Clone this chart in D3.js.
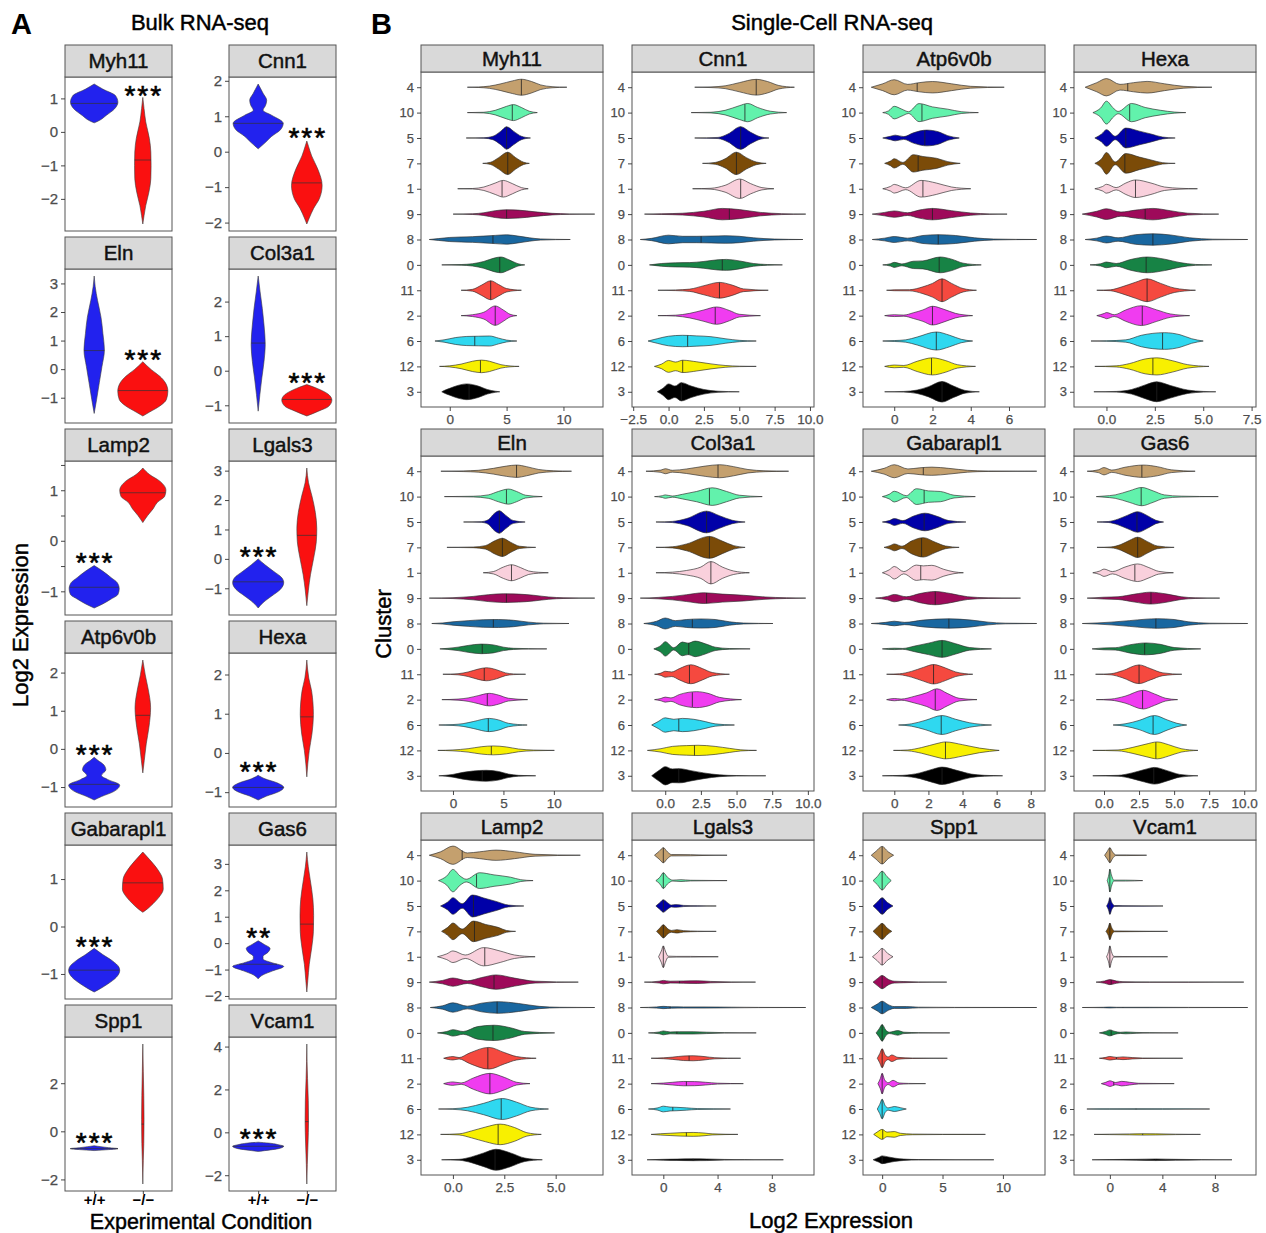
<!DOCTYPE html>
<html>
<head>
<meta charset="utf-8">
<script src="https://cdn.jsdelivr.net/npm/d3@7"></script>
<style>
  body { margin: 0; background: #fff; }
  svg { display: block; }
</style>
</head>
<body>
<svg id="fig" width="1266" height="1233"></svg>
<script>
// ---------------- Bulk RNA-seq (panel A) ----------------
const bulkGenes = ["Myh11","Cnn1","Eln","Col3a1","Lamp2","Lgals3","Atp6v0b","Hexa","Gabarapl1","Gas6","Spp1","Vcam1"];
const conditions = ["+/+","−/−"];
const conditionColors = ["#2222ee","#fa1010"];

// density outline knots: [log2 expression, relative half-width]
const bulkWT = [
  [[0.27,0],[0.34,0.21],[0.49,0.49],[0.69,0.84],[0.885,0.975],[1.08,0.88],[1.28,0.35],[1.43,0]],
  [[0.08,0],[0.25,0.28],[0.43,0.55],[0.62,0.92],[0.8,1.03],[1.03,0.55],[1.17,0.2],[1.3,0.3],[1.45,0.35],[1.65,0.2],[1.91,0]],
  [[-1.55,0],[-1.06,0.1],[-0.48,0.21],[0.09,0.32],[0.67,0.42],[1.24,0.36],[1.82,0.28],[2.4,0.14],[2.9,0.04],[3.26,0]],
  [[-1.17,0],[-0.69,0.07],[-0.21,0.15],[0.27,0.24],[0.75,0.29],[1.32,0.24],[1.8,0.17],[2.28,0.08],[2.74,0]],
  [[-1.33,0],[-1.25,0.35],[-1.16,0.67],[-1.06,0.98],[-0.95,1.03],[-0.83,0.95],[-0.73,0.7],[-0.6,0.35],[-0.49,0]],
  [[-1.67,0],[-1.48,0.21],[-1.26,0.56],[-1.04,0.91],[-0.81,1.05],[-0.65,0.98],[-0.42,0.63],[-0.2,0.28],[0,0]],
  [[-1.34,0],[-1.25,0.3],[-1.12,0.8],[-0.95,1.05],[-0.8,0.55],[-0.7,0.3],[-0.55,0.48],[-0.42,0.4],[-0.3,0.15],[-0.22,0]],
  [[-1.2,0],[-1.1,0.35],[-0.99,0.84],[-0.88,1.05],[-0.76,0.77],[-0.66,0.28],[-0.57,0]],
  [[-1.38,0],[-1.31,0.25],[-1.21,0.56],[-1.07,0.91],[-0.93,1.05],[-0.86,1.02],[-0.72,0.74],[-0.59,0.35],[-0.46,0]],
  [[-1.35,0],[-1.2,0.2],[-1.05,0.6],[-0.88,1.05],[-0.75,0.6],[-0.6,0.2],[-0.5,0.2],[-0.35,0.4],[-0.2,0.49],[-0.05,0.25],[0.09,0]],
  [[-0.8,0],[-0.76,0.6],[-0.72,0.98],[-0.68,0.6],[-0.6,0]],
  [[-0.89,0],[-0.82,0.5],[-0.76,0.84],[-0.65,1.05],[-0.58,0.84],[-0.5,0.42],[-0.46,0]]
];
const bulkKO = [
  [[-2.75,0],[-2.5,0.05],[-2.2,0.12],[-1.8,0.25],[-1.4,0.33],[-1.0,0.34],[-0.6,0.33],[-0.2,0.27],[0.3,0.12],[0.7,0.05],[1.03,0]],
  [[-2.04,0],[-1.87,0.1],[-1.6,0.28],[-1.32,0.52],[-0.95,0.63],[-0.49,0.45],[-0.12,0.2],[0.15,0.07],[0.3,0]],
  [[-1.64,0],[-1.5,0.28],[-1.29,0.7],[-1.06,0.97],[-0.77,1.03],[-0.48,0.93],[-0.25,0.7],[-0.02,0.35],[0.26,0]],
  [[-1.31,0],[-1.17,0.48],[-1.03,0.9],[-0.85,1.03],[-0.69,0.9],[-0.55,0.55],[-0.4,0]],
  [[0.36,0],[0.5,0.2],[0.63,0.42],[0.76,0.6],[0.88,0.9],[1.0,0.95],[1.18,0.7],[1.31,0.28],[1.44,0]],
  [[-1.59,0],[-1.09,0.06],[-0.54,0.15],[0.02,0.28],[0.58,0.39],[1.03,0.41],[1.58,0.35],[2.14,0.21],[2.59,0.07],[3.09,0]],
  [[-0.63,0],[-0.3,0.06],[0.13,0.14],[0.56,0.25],[1.08,0.32],[1.6,0.21],[1.94,0.1],[2.33,0]],
  [[-0.61,0],[-0.28,0.04],[0.06,0.1],[0.48,0.21],[0.98,0.27],[1.57,0.2],[1.91,0.08],[2.37,0]],
  [[0.3,0],[0.38,0.21],[0.48,0.42],[0.62,0.67],[0.79,0.84],[1.0,0.81],[1.21,0.6],[1.41,0.28],[1.57,0]],
  [[-1.85,0],[-1.42,0.04],[-0.8,0.1],[-0.18,0.2],[0.43,0.27],[1.05,0.28],[1.66,0.25],[2.4,0.14],[2.89,0.06],[3.45,0]],
  [[-2.19,0],[-1.2,0.02],[-0.5,0.04],[0.5,0.05],[1.5,0.04],[2.5,0.02],[3.63,0]],
  [[-2.41,0],[-1.5,0.02],[-0.5,0.05],[0.5,0.07],[1.5,0.06],[2.5,0.03],[3.3,0.01],[4.12,0]]
];
const bulkMedians = [[0.85,-0.84],[0.8,-0.88],[0.65,-0.75],[0.8,-0.83],[-0.92,0.95],[-0.78,0.8],
                     [-0.93,0.88],[-0.88,0.92],[-0.92,0.92],[-0.8,0.72],[-0.72,0.3],[-0.65,0.5]];
const bulkStars = ["***","***","***","***","***","***","***","***","***","**","***","***"];
const bulkStarGroup = [1,1,1,1,0,0,0,0,0,0,0,0];
const bulkStarAt = [1.28,0.57,0.55,-0.16,-0.31,0.3,0.02,-0.32,-0.28,0.46,-0.18,0.0];
const bulkTicks = [[-2,-1,0,1],[-2,-1,0,1,2],[-1,0,1,2,3],[-1,0,1,2],[-1,-0.5,0,0.5,1,1.5],[-1,0,1,2,3],
                   [-1,0,1,2],[-1,0,1,2],[-1,0,1],[-2,-1,0,1,2,3],[-2,0,2],[-2,0,2,4]];

// ---------------- Single-cell RNA-seq (panel B) ----------------
const clusters = ["4","10","5","7","1","9","8","0","11","2","6","12","3"];
const clusterColors = ["#C4A06E","#62F2AC","#0000A8","#7B4B08","#F9D0DC","#9E0A5A","#1967A0",
                       "#178345","#F5493F","#F03CF0","#2FD8F0","#F8F000","#000000"];
const scGenes = ["Myh11","Cnn1","Atp6v0b","Hexa","Eln","Col3a1","Gabarapl1","Gas6","Lamp2","Lgals3","Spp1","Vcam1"];
const scTickValues = [[0,5,10],[-2.5,0,2.5,5,7.5,10],[0,2,4,6],[0,2.5,5,7.5],[0,5,10],[0,2.5,5,7.5,10],
                      [0,2,4,6,8],[0,2.5,5,7.5,10],[0,2.5,5],[0,4,8],[0,5,10],[0,4,8]];
const scTickLabels = [["0","5","10"],["−2.5","0.0","2.5","5.0","7.5","10.0"],["0","2","4","6"],["0.0","2.5","5.0","7.5"],
                      ["0","5","10"],["0.0","2.5","5.0","7.5","10.0"],["0","2","4","6","8"],["0.0","2.5","5.0","7.5","10.0"],
                      ["0.0","2.5","5.0"],["0","4","8"],["0","5","10"],["0","4","8"]];

// each cluster: [median, knots [log2 expression, relative half-height]]
const scMyh11 = [
  [6.3,[[1.55,0],[2.5,0.02],[3.5,0.1],[4.5,0.3],[5.5,0.55],[6.3,0.7],[7.2,0.5],[8,0.2],[9,0.05],[10.3,0]]],
  [5.5,[[1.55,0],[3,0.03],[4,0.2],[5,0.55],[5.6,0.7],[6.3,0.45],[7,0.12],[7.7,0]]],
  [5.0,[[1.45,0],[3,0.02],[3.8,0.15],[4.5,0.6],[5,0.98],[5.6,0.6],[6.3,0.15],[7.1,0]]],
  [5.1,[[2.9,0],[3.6,0.1],[4.3,0.5],[5.1,0.98],[5.8,0.5],[6.5,0.1],[7.0,0]]],
  [4.6,[[0.7,0],[2,0.02],[3,0.15],[4,0.5],[4.7,0.73],[5.5,0.45],[6.3,0.1],[6.9,0]]],
  [5.0,[[0.3,0],[2,0.03],[3,0.12],[4,0.3],[5,0.38],[6,0.35],[7.5,0.2],[9,0.07],[10.5,0.02],[12.75,0]]],
  [3.8,[[-1.8,0],[-1,0.08],[0,0.18],[1,0.22],[2,0.25],[3,0.3],[4,0.36],[5,0.41],[6,0.3],[7,0.15],[8,0.05],[10.6,0]]],
  [4.4,[[-0.7,0],[1,0.03],[2,0.1],[3,0.3],[4,0.62],[4.5,0.69],[5.2,0.45],[6,0.1],[6.6,0]]],
  [3.6,[[1,0],[2,0.08],[2.8,0.45],[3.6,0.83],[4.3,0.5],[5,0.15],[6.3,0]]],
  [4.0,[[1,0],[2,0.08],[3,0.3],[4,0.85],[4.7,0.5],[5.3,0.12],[5.9,0]]],
  [2.2,[[-1.3,0],[-0.5,0.1],[0.5,0.3],[1.5,0.4],[2.5,0.42],[3.5,0.44],[4.3,0.25],[5,0.08],[5.9,0]]],
  [2.7,[[-0.9,0],[0,0.05],[1,0.2],[2,0.45],[2.8,0.55],[3.5,0.45],[4.5,0.15],[5.3,0.04],[6.1,0]]],
  [1.7,[[-0.7,0],[-0.4,0.15],[0,0.3],[0.7,0.55],[1.5,0.69],[2.5,0.5],[3.3,0.2],[4,0.05],[4.4,0]]]
];
const scCnn1 = [
  [6.2,[[1.85,0],[3,0.03],[4,0.12],[5,0.4],[6.2,0.69],[7,0.5],[7.8,0.15],[8.9,0]]],
  [5.4,[[1.6,0],[3,0.03],[4,0.2],[5,0.6],[5.6,0.8],[6.3,0.45],[7.2,0.12],[8.35,0]]],
  [5.1,[[1.85,0],[3.5,0.05],[4.2,0.35],[5.1,0.99],[5.8,0.5],[6.5,0.1],[7.1,0]]],
  [4.8,[[2.4,0],[3.3,0.08],[4,0.4],[4.8,0.98],[5.5,0.5],[6.2,0.12],[6.9,0]]],
  [5.1,[[1.7,0],[3,0.04],[4,0.3],[5.05,0.85],[5.8,0.45],[6.6,0.1],[7.45,0]]],
  [4.3,[[-1.7,0],[-0.5,0.03],[1,0.08],[2.5,0.25],[3.8,0.5],[5,0.4],[6.5,0.15],[8,0.04],[9.7,0]]],
  [2.3,[[-2.0,0],[-1.2,0.1],[0,0.38],[1,0.28],[2,0.28],[3,0.3],[4,0.33],[5,0.28],[6,0.15],[7.5,0.04],[9.5,0]]],
  [3.8,[[-1.35,0],[-0.5,0.12],[0.5,0.18],[1.5,0.2],[2.5,0.3],[3.5,0.45],[4.1,0.48],[5,0.35],[6,0.12],[7,0.03],[8.05,0]]],
  [3.6,[[-0.75,0],[0.5,0.03],[1.5,0.1],[2.5,0.4],[3.6,0.69],[4.5,0.45],[5.3,0.12],[7.05,0]]],
  [3.3,[[-0.75,0],[0.5,0.04],[1.5,0.2],[2.5,0.5],[3.4,0.76],[4.3,0.45],[5,0.12],[6.5,0]]],
  [1.35,[[-1.45,0],[-0.8,0.2],[0,0.42],[1,0.5],[2,0.45],[3,0.38],[4,0.2],[5,0.06],[6.2,0]]],
  [1.0,[[-1,0],[-0.5,0.2],[0,0.52],[0.5,0.38],[1,0.54],[2,0.4],[3,0.22],[4,0.08],[5,0.02],[6.2,0]]],
  [0.9,[[-0.8,0],[-0.4,0.3],[0,0.69],[0.45,0.5],[0.9,0.8],[1.6,0.5],[2.5,0.2],[3.5,0.05],[5,0]]]
];
const scAtp6v0b = [
  [1.2,[[-1.2,0],[-0.6,0.3],[0,0.66],[0.7,0.25],[1.3,0.4],[2,0.5],[3,0.3],[4,0.08],[5.75,0]]],
  [1.45,[[-0.6,0],[-0.3,0.15],[0,0.55],[0.4,0.3],[0.75,0.08],[1.3,0.79],[2,0.5],[2.8,0.3],[3.5,0.08],[4.4,0]]],
  [1.6,[[-0.6,0],[-0.2,0.15],[0.05,0.25],[0.5,0.12],[1,0.45],[1.7,0.69],[2.3,0.55],[2.8,0.2],[3.4,0]]],
  [1.25,[[-0.5,0],[-0.2,0.2],[0,0.41],[0.45,0.08],[1,0.76],[1.5,0.6],[2.2,0.45],[2.8,0.15],[3.45,0]]],
  [1.5,[[-0.6,0],[-0.2,0.2],[0,0.38],[0.6,0.08],[1.4,0.73],[2.2,0.5],[3,0.15],[3.5,0.05],[4,0]]],
  [2.0,[[-1.15,0],[-0.5,0.15],[0,0.28],[0.7,0.12],[1.3,0.35],[2,0.5],[3,0.3],[4,0.1],[5,0.02],[5.9,0]]],
  [2.3,[[-1.15,0],[-0.5,0.12],[0,0.26],[0.7,0.12],[1.5,0.35],[2.3,0.42],[3.2,0.35],[4.2,0.15],[5.2,0.04],[7.45,0]]],
  [2.35,[[-0.6,0],[-0.2,0.1],[0,0.22],[0.4,0.08],[1,0.32],[1.5,0.35],[2.4,0.69],[3,0.5],[3.6,0.15],[4.55,0]]],
  [2.5,[[-0.4,0],[0,0.04],[0.8,0.05],[1.5,0.3],[2,0.6],[2.5,1.0],[3,0.6],[3.6,0.15],[4.3,0]]],
  [2.0,[[-0.5,0],[0,0.08],[0.5,0.05],[1,0.25],[1.5,0.5],[2,0.82],[2.6,0.55],[3.2,0.2],[4.1,0]]],
  [2.2,[[-0.6,0],[0,0.04],[0.6,0.1],[1.2,0.35],[2.2,0.79],[2.9,0.5],[3.5,0.15],[4.1,0]]],
  [1.95,[[-0.5,0],[0,0.12],[0.5,0.08],[1.2,0.45],[2,0.75],[2.7,0.5],[3.3,0.15],[4.25,0]]],
  [2.5,[[-0.5,0],[0.5,0.03],[1.2,0.15],[1.8,0.45],[2.5,0.9],[3.1,0.5],[3.7,0.12],[4.45,0]]]
];
const scHexa = [
  [1.1,[[-1.1,0],[-0.5,0.4],[0,0.76],[0.7,0.25],[1.4,0.4],[2.1,0.51],[3,0.3],[4,0.08],[5.45,0]]],
  [1.2,[[-0.7,0],[-0.3,0.4],[0,1.0],[0.35,0.4],[0.6,0.1],[1.3,0.8],[2,0.45],[2.8,0.2],[3.5,0.05],[4.1,0]]],
  [1.0,[[-0.6,0],[-0.25,0.35],[0,0.73],[0.45,0.15],[1,0.87],[1.7,0.6],[2.3,0.35],[2.9,0.08],[3.55,0]]],
  [0.95,[[-0.6,0],[-0.25,0.4],[0,0.95],[0.45,0.12],[1,0.86],[1.7,0.55],[2.3,0.3],[2.9,0.06],[3.55,0]]],
  [1.5,[[-0.6,0],[-0.2,0.2],[0,0.39],[0.5,0.1],[1,0.5],[1.5,0.77],[2.3,0.5],[3,0.15],[3.8,0.04],[4.7,0]]],
  [2.0,[[-1.25,0],[-0.5,0.25],[0,0.47],[0.75,0.18],[1.5,0.35],[2.4,0.5],[3.3,0.3],[4.2,0.08],[5.8,0]]],
  [2.4,[[-1.1,0],[-0.5,0.12],[0,0.3],[0.6,0.15],[1.5,0.42],[2.4,0.5],[3.3,0.4],[4.3,0.15],[5.5,0.03],[7.3,0]]],
  [2.05,[[-0.85,0],[-0.3,0.1],[0,0.25],[0.5,0.12],[1.2,0.45],[2.1,0.69],[3,0.5],[3.8,0.2],[4.6,0.04],[5.45,0]]],
  [2.1,[[-0.5,0],[0.2,0.04],[0.8,0.3],[1.5,0.7],[2.1,1.0],[2.8,0.6],[3.5,0.2],[4.6,0]]],
  [1.85,[[-0.5,0],[-0.1,0.2],[0,0.27],[0.4,0.08],[1,0.5],[1.8,0.87],[2.6,0.5],[3.3,0.15],[4.3,0]]],
  [2.9,[[-0.8,0],[0,0.02],[1,0.1],[1.8,0.5],[3,0.73],[3.8,0.55],[4.4,0.2],[5,0]]],
  [2.4,[[-0.6,0],[0.5,0.05],[1.2,0.25],[2,0.65],[2.6,0.75],[3.4,0.5],[4.2,0.15],[5.3,0]]],
  [2.6,[[-0.65,0],[0.5,0.03],[1.3,0.2],[2,0.6],[2.6,0.87],[3.3,0.55],[4.2,0.15],[5,0.03],[5.65,0]]]
];
const scEln = [
  [6.3,[[-1.2,0],[1,0.03],[2.5,0.08],[4,0.25],[5.3,0.45],[6.3,0.54],[7.3,0.4],[8.5,0.15],[10,0.04],[11.75,0]]],
  [5.3,[[-0.85,0],[2,0.03],[3.5,0.15],[4.5,0.45],[5.5,0.66],[6.3,0.45],[7.2,0.12],[8.85,0]]],
  [4.6,[[1.05,0],[2.8,0.03],[3.5,0.2],[4.1,0.75],[4.6,0.98],[5.2,0.6],[6,0.12],[7.15,0]]],
  [4.9,[[-0.6,0],[2,0.03],[3.2,0.15],[4.2,0.6],[4.9,0.8],[5.7,0.45],[6.6,0.1],[8.2,0]]],
  [5.8,[[3,0],[4,0.1],[5,0.5],[5.8,0.7],[6.7,0.45],[7.5,0.15],[8.5,0.04],[9.45,0]]],
  [5.3,[[-2.35,0],[0,0.04],[2,0.15],[3.5,0.3],[5,0.38],[6.5,0.35],[8,0.25],[9.5,0.1],[11,0.03],[14.05,0]]],
  [4.0,[[-2.1,0],[-1,0.05],[0,0.15],[1.5,0.25],[3,0.33],[4.5,0.35],[6,0.28],[7.5,0.12],[9,0.03],[11.5,0]]],
  [2.9,[[-1.3,0],[-0.5,0.05],[0.5,0.15],[1.5,0.3],[2.8,0.42],[4,0.35],[5,0.15],[6,0.05],[7.5,0.02],[9.3,0]]],
  [3.1,[[-1,0],[0.5,0.05],[1.5,0.2],[2.5,0.45],[3.3,0.57],[4.3,0.4],[5.2,0.12],[6,0.03],[7.2,0]]],
  [3.4,[[-1.1,0],[0.5,0.05],[1.5,0.15],[2.5,0.35],[3.6,0.55],[4.5,0.4],[5.5,0.12],[7.4,0]]],
  [3.5,[[-1.4,0],[0,0.04],[1,0.12],[2,0.3],[3.6,0.58],[4.5,0.45],[5.5,0.15],[7.35,0]]],
  [3.8,[[-1.5,0],[0,0.04],[1.5,0.15],[2.8,0.32],[4,0.39],[5.3,0.3],[6.5,0.12],[8,0.03],[10.05,0]]],
  [2.9,[[-1.4,0],[0,0.12],[1,0.3],[2,0.42],[3.3,0.48],[4.5,0.38],[5.5,0.15],[6.5,0.04],[8.2,0]]]
];
const scCol3a1 = [
  [3.7,[[-1.35,0],[-0.3,0.1],[0,0.22],[0.5,0.08],[1.5,0.2],[2.8,0.45],[3.8,0.57],[4.8,0.4],[5.8,0.15],[7,0.04],[8.65,0]]],
  [3.1,[[-0.75,0],[-0.2,0.08],[0,0.15],[0.5,0.05],[1.2,0.2],[2.2,0.45],[3.3,0.77],[4.3,0.45],[5.2,0.12],[6.8,0]]],
  [2.9,[[-0.65,0],[0.5,0.05],[1.5,0.3],[2.9,0.95],[3.8,0.55],[4.7,0.15],[5.6,0]]],
  [3.1,[[-0.65,0],[0.5,0.05],[1.5,0.3],[3.1,0.96],[4,0.55],[4.8,0.15],[5.6,0]]],
  [3.2,[[-0.65,0],[0.5,0.05],[1.5,0.2],[2.5,0.5],[3.2,0.98],[4,0.5],[4.8,0.15],[5.9,0]]],
  [2.9,[[-1.75,0],[-0.5,0.06],[0.5,0.15],[1.5,0.3],[2.7,0.47],[4,0.35],[5.5,0.25],[7,0.1],[8.5,0.03],[9.85,0]]],
  [1.9,[[-1.5,0],[-0.6,0.2],[0,0.48],[0.7,0.25],[1.5,0.35],[2.5,0.4],[3.5,0.35],[4.5,0.15],[5.5,0.04],[7.55,0]]],
  [1.65,[[-0.8,0],[-0.3,0.3],[0,0.63],[0.6,0.1],[1.2,0.6],[1.6,0.5],[2.1,0.68],[2.8,0.45],[3.5,0.15],[4.5,0.03],[5.95,0]]],
  [1.7,[[-0.75,0],[-0.3,0.1],[0,0.26],[0.45,0.2],[1,0.5],[1.8,0.83],[2.6,0.5],[3.3,0.15],[4.5,0]]],
  [1.9,[[-0.75,0],[-0.3,0.1],[0,0.22],[0.4,0.15],[1,0.45],[2.2,0.7],[3,0.55],[3.8,0.2],[5.35,0]]],
  [0.95,[[-0.95,0],[-0.5,0.3],[0,0.63],[0.6,0.5],[1.2,0.58],[2,0.5],[2.8,0.3],[3.5,0.1],[4.85,0]]],
  [2.05,[[-1.25,0],[-0.3,0.15],[0.5,0.35],[1.5,0.42],[2.3,0.45],[3.5,0.35],[4.5,0.18],[5.3,0.05],[6.4,0]]],
  [0.95,[[-0.95,0],[-0.4,0.5],[0,0.8],[0.5,0.6],[1,0.62],[1.8,0.45],[2.7,0.25],[3.8,0.08],[5,0.02],[7.05,0]]]
];
const scGabarapl1 = [
  [1.7,[[-1.35,0],[-0.6,0.25],[0,0.57],[0.8,0.2],[1.5,0.3],[2.2,0.36],[3.2,0.25],[4.3,0.08],[5.5,0.02],[8.35,0]]],
  [1.75,[[-0.7,0],[-0.3,0.2],[0,0.47],[0.7,0.08],[1.3,0.69],[2,0.5],[2.7,0.45],[3.5,0.12],[4.75,0]]],
  [1.75,[[-0.7,0],[-0.3,0.12],[0,0.3],[0.5,0.12],[1.1,0.5],[1.8,0.77],[2.5,0.5],[3.2,0.12],[4.2,0]]],
  [1.6,[[-0.6,0],[-0.25,0.15],[0,0.3],[0.45,0.1],[1,0.55],[1.7,0.85],[2.4,0.45],[3,0.12],[3.8,0]]],
  [1.55,[[-0.7,0],[-0.3,0.25],[0,0.55],[0.55,0.1],[1.3,0.67],[1.7,0.6],[2.2,0.65],[2.9,0.3],[3.5,0.08],[4.05,0]]],
  [2.4,[[-1.1,0],[-0.4,0.15],[0,0.32],[0.7,0.12],[1.5,0.4],[2.4,0.58],[3.3,0.4],[4.3,0.12],[5.5,0.03],[7.4,0]]],
  [3.2,[[-1.35,0],[-0.5,0.1],[0,0.2],[0.6,0.1],[1.7,0.3],[3.2,0.41],[4.5,0.3],[5.5,0.12],[6.5,0.03],[8.35,0]]],
  [2.8,[[-0.7,0],[0,0.06],[0.5,0.04],[1.2,0.25],[2,0.5],[2.8,0.74],[3.6,0.45],[4.4,0.12],[5.7,0]]],
  [2.3,[[-0.45,0],[0.3,0.04],[1,0.25],[1.7,0.6],[2.3,0.85],[3,0.55],[3.6,0.2],[4.6,0]]],
  [2.4,[[-0.45,0],[0,0.1],[0.4,0.05],[1.2,0.3],[1.9,0.6],[2.5,0.95],[3.1,0.55],[3.8,0.12],[4.85,0]]],
  [2.75,[[0.25,0],[1,0.1],[1.8,0.4],[2.8,0.83],[3.6,0.5],[4.4,0.2],[5.7,0]]],
  [3.0,[[-0.05,0],[0.8,0.04],[1.6,0.25],[2.5,0.6],[3,0.74],[4,0.5],[5,0.2],[6.15,0]]],
  [2.8,[[-0.7,0],[0.5,0.04],[1.5,0.25],[2.3,0.6],[2.8,0.76],[3.6,0.5],[4.5,0.15],[5.3,0.04],[6.35,0]]]
];
const scGas6 = [
  [2.7,[[-1.2,0],[-0.4,0.12],[0,0.32],[0.55,0.1],[1.5,0.35],[2.8,0.54],[3.8,0.4],[4.8,0.12],[6.5,0]]],
  [2.65,[[-0.55,0],[0,0.05],[0.8,0.15],[1.8,0.5],[2.7,0.8],[3.5,0.5],[4.3,0.15],[5.5,0.04],[8.15,0]]],
  [2.35,[[-0.5,0],[0.3,0.04],[1,0.25],[1.7,0.6],[2.4,0.9],[3.1,0.55],[3.7,0.15],[4.25,0]]],
  [2.4,[[-0.5,0],[0.5,0.04],[1.2,0.25],[1.8,0.6],[2.4,0.89],[3.1,0.5],[3.8,0.12],[5,0]]],
  [2.2,[[-0.8,0],[-0.3,0.15],[0,0.32],[0.6,0.1],[1.5,0.5],[2.4,0.77],[3.2,0.45],[3.9,0.12],[4.95,0]]],
  [3.35,[[-1.2,0],[0,0.08],[1,0.12],[2.2,0.35],[3.3,0.52],[4.5,0.35],[5.5,0.12],[6.5,0.03],[8.25,0]]],
  [3.7,[[-1.55,0],[-0.5,0.05],[0.5,0.12],[1.8,0.25],[3,0.38],[3.8,0.42],[5,0.35],[6,0.15],[7.5,0.03],[10.25,0]]],
  [2.9,[[-0.85,0],[0,0.08],[0.8,0.1],[1.8,0.35],[3,0.52],[4,0.4],[5,0.12],[6.9,0]]],
  [2.5,[[-0.6,0],[0.5,0.05],[1.3,0.3],[2.5,0.82],[3.3,0.5],[4.2,0.12],[5.55,0]]],
  [2.75,[[-0.55,0],[0.5,0.05],[1.5,0.3],[2.8,0.82],[3.6,0.5],[4.4,0.12],[5.25,0]]],
  [3.5,[[0.65,0],[1.5,0.1],[2.5,0.4],[3.6,0.83],[4.5,0.45],[5.2,0.15],[5.9,0]]],
  [3.7,[[-0.8,0],[1,0.04],[2,0.25],[3,0.55],[3.8,0.74],[4.6,0.5],[5.5,0.15],[6.7,0]]],
  [3.55,[[-0.8,0],[1,0.04],[2,0.25],[2.9,0.55],[3.6,0.73],[4.5,0.45],[5.4,0.12],[6.7,0]]]
];
const scLamp2 = [
  [0.45,[[-1.15,0],[-0.6,0.3],[0,0.8],[0.7,0.2],[1.3,0.3],[2.1,0.45],[3,0.3],[4,0.08],[6.2,0]]],
  [1.15,[[-0.7,0],[-0.3,0.4],[0,0.98],[0.35,0.4],[0.65,0.12],[1.3,0.69],[2,0.5],[2.8,0.3],[3.3,0.08],[3.9,0]]],
  [1.0,[[-0.6,0],[-0.25,0.35],[0,0.73],[0.45,0.2],[0.95,0.96],[1.5,0.7],[2.1,0.4],[2.7,0.08],[3.45,0]]],
  [1.05,[[-0.55,0],[-0.25,0.35],[0,0.73],[0.45,0.2],[1,0.9],[1.6,0.6],[2.2,0.35],[2.6,0.08],[3.05,0]]],
  [1.55,[[-0.75,0],[-0.3,0.25],[0,0.51],[0.6,0.15],[1.5,0.8],[2.3,0.5],[3,0.15],[4,0]]],
  [2.0,[[-1.15,0],[-0.5,0.15],[0,0.36],[0.7,0.12],[1.4,0.4],[2.1,0.63],[3,0.35],[4,0.08],[6.1,0]]],
  [2.15,[[-1.1,0],[-0.5,0.15],[0,0.41],[0.7,0.12],[1.4,0.38],[2.2,0.51],[3.2,0.35],[4.2,0.1],[5.2,0.02],[6.9,0]]],
  [1.95,[[-0.75,0],[-0.3,0.12],[0,0.28],[0.5,0.12],[1.2,0.55],[2,0.67],[2.8,0.45],[3.5,0.12],[4.95,0]]],
  [1.7,[[-0.45,0],[0,0.15],[0.3,0.06],[0.8,0.45],[1.75,0.95],[2.5,0.5],[3.1,0.15],[4.05,0]]],
  [1.8,[[-0.45,0],[0,0.15],[0.4,0.06],[1,0.5],[1.8,0.9],[2.5,0.55],[3.1,0.12],[3.75,0]]],
  [2.35,[[-0.7,0],[0,0.03],[0.7,0.15],[1.5,0.5],[2.4,0.92],[3.1,0.6],[3.8,0.15],[4.65,0]]],
  [2.2,[[-0.6,0],[0.3,0.05],[0.9,0.3],[1.6,0.65],[2.3,0.9],[3,0.6],[3.6,0.15],[4.3,0]]],
  [2.05,[[-0.55,0],[0.3,0.04],[0.9,0.25],[1.5,0.6],[2.1,0.92],[2.8,0.6],[3.5,0.15],[4.35,0]]]
];
const scLgals3 = [
  [0,[[-0.65,0],[-0.3,0.35],[0,0.66],[0.3,0.3],[0.6,0.06],[2,0.05],[3,0.02],[4.7,0]]],
  [0,[[-0.55,0],[-0.25,0.3],[0,0.69],[0.3,0.3],[0.7,0.04],[1.3,0.08],[2,0.03],[4.7,0]]],
  [0,[[-0.55,0],[-0.25,0.3],[0,0.54],[0.35,0.25],[0.6,0.08],[0.9,0.12],[1.5,0.05],[2.5,0.02],[3.9,0]]],
  [0,[[-0.5,0],[-0.25,0.3],[0,0.58],[0.35,0.2],[0.6,0.08],[1,0.15],[1.5,0.06],[2.5,0.02],[3.9,0]]],
  [0,[[-0.35,0],[-0.15,0.5],[0,0.95],[0.15,0.5],[0.35,0.05],[1,0.03],[2,0.03],[4.05,0]]],
  [1.2,[[-1.4,0],[-0.3,0.08],[0,0.15],[0.5,0.08],[1.5,0.1],[2.5,0.12],[3.5,0.06],[5,0.02],[6.8,0]]],
  [0.5,[[-1.7,0],[-0.5,0.05],[0,0.1],[0.6,0.06],[1.5,0.05],[3,0.05],[5,0.03],[7,0.01],[10.5,0]]],
  [1.0,[[-1.1,0],[-0.3,0.08],[0,0.17],[0.5,0.08],[1.2,0.1],[2.2,0.1],[3.2,0.06],[4.5,0.02],[6.85,0]]],
  [1.9,[[-0.9,0],[0,0.04],[0.7,0.1],[1.5,0.2],[2.2,0.22],[3,0.15],[3.8,0.05],[5.7,0]]],
  [1.7,[[-0.9,0],[0,0.05],[0.7,0.12],[1.5,0.19],[2.3,0.18],[3.1,0.12],[4,0.04],[5.9,0]]],
  [0.7,[[-1.1,0],[-0.4,0.1],[0,0.25],[0.5,0.17],[1,0.15],[1.7,0.1],[2.5,0.04],[4.95,0]]],
  [1.7,[[-0.9,0],[-0.2,0.06],[0.5,0.1],[1.3,0.15],[2.2,0.17],[3,0.12],[3.6,0.05],[5.5,0]]],
  [2.2,[[-1.2,0],[0,0.04],[1,0.06],[2.2,0.08],[3.2,0.07],[4.5,0.03],[6,0.01],[8.85,0]]]
];
const scSpp1 = [
  [0,[[-0.9,0],[-0.5,0.35],[0,0.77],[0.5,0.3],[0.95,0]]],
  [0,[[-0.75,0],[-0.4,0.35],[0,0.83],[0.4,0.35],[0.75,0]]],
  [0,[[-0.75,0],[-0.4,0.35],[0,0.72],[0.45,0.3],[0.9,0]]],
  [0,[[-0.75,0],[-0.4,0.35],[0,0.7],[0.4,0.3],[0.8,0]]],
  [0,[[-0.8,0],[-0.4,0.35],[0,0.73],[0.45,0.3],[0.9,0]]],
  [0,[[-0.75,0],[-0.4,0.3],[0,0.58],[0.5,0.25],[1,0.08],[1.8,0.05],[3,0.02],[5.35,0]]],
  [0,[[-0.9,0],[-0.4,0.3],[0,0.55],[0.5,0.25],[1,0.08],[2,0.08],[3,0.03],[6,0.01],[12.8,0]]],
  [0,[[-0.5,0],[-0.25,0.35],[0,0.73],[0.3,0.25],[0.6,0.06],[1.3,0.2],[1.8,0.06],[3,0.02],[5.6,0]]],
  [0,[[-0.4,0],[-0.2,0.4],[0,0.83],[0.25,0.3],[0.5,0.12],[0.8,0.29],[1.3,0.08],[2.5,0.02],[5.4,0]]],
  [0,[[-0.35,0],[-0.15,0.45],[0,0.9],[0.2,0.35],[0.5,0.08],[0.9,0.29],[1.4,0.06],[2.2,0.02],[3.6,0]]],
  [0,[[-0.4,0],[-0.2,0.4],[0,0.86],[0.25,0.3],[0.5,0.1],[1,0.22],[1.5,0.12],[2,0]]],
  [0.05,[[-0.7,0],[-0.35,0.25],[0,0.44],[0.4,0.2],[1,0.25],[1.5,0.1],[2.5,0.03],[5,0.01],[8.55,0]]],
  [0,[[-0.75,0],[-0.3,0.2],[0,0.34],[0.5,0.25],[1,0.15],[1.8,0.06],[3,0.02],[9.25,0]]]
];
const scVcam1 = [
  [0,[[-0.4,0],[-0.2,0.33],[0,0.66],[0.2,0.3],[0.45,0.03],[1.3,0.03],[2.8,0]]],
  [0,[[-0.2,0],[-0.08,0.5],[0,1.0],[0.12,0.5],[0.3,0.04],[1.2,0.04],[2.5,0]]],
  [0,[[-0.25,0],[-0.1,0.35],[0,0.73],[0.15,0.3],[0.35,0.04],[1,0.03],[4.05,0]]],
  [0,[[-0.3,0],[-0.12,0.35],[0,0.73],[0.15,0.3],[0.35,0.04],[1,0.03],[4.4,0]]],
  [0,[[-0.25,0],[-0.1,0.45],[0,0.95],[0.12,0.45],[0.3,0.03],[1,0.02],[4.4,0]]],
  [0.1,[[-1.05,0],[-0.4,0.1],[0,0.22],[0.5,0.1],[1,0.04],[3,0.02],[6,0.01],[10.2,0]]],
  [1.0,[[-2.1,0],[-0.5,0.02],[0,0.04],[0.5,0.02],[3,0.02],[6,0.01],[10.5,0]]],
  [0.1,[[-0.8,0],[-0.35,0.12],[0,0.26],[0.4,0.12],[0.8,0.05],[1.2,0.08],[2,0.04],[3,0.02],[5.2,0]]],
  [0.5,[[-0.8,0],[-0.3,0.08],[0,0.16],[0.5,0.08],[1,0.12],[1.7,0.06],[2.5,0.02],[5.55,0]]],
  [0.3,[[-0.65,0],[-0.3,0.12],[0,0.25],[0.45,0.1],[0.9,0.2],[1.5,0.12],[2.2,0.03],[4.9,0]]],
  [2.0,[[-1.75,0],[0,0.02],[2,0.03],[4,0.02],[7.6,0]]],
  [2.5,[[-1.2,0],[0,0.02],[1.5,0.04],[2.5,0.06],[3.5,0.05],[5,0.02],[6.9,0]]],
  [3.5,[[-1.35,0],[0,0.02],[2,0.04],[3.5,0.07],[5,0.04],[7,0.01],[9.3,0]]]
];
const scViolins = [scMyh11, scCnn1, scAtp6v0b, scHexa, scEln, scCol3a1, scGabarapl1, scGas6,
                   scLamp2, scLgals3, scSpp1, scVcam1];

// ---------------- drawing ----------------
const FONT = "'Liberation Sans', Arial, Helvetica, sans-serif";
const svg = d3.select("#fig");
svg.append("rect").attr("width", 1266).attr("height", 1233).attr("fill", "#fff");

const BORDER = "#555";
const STRIP_FILL = "#d9d9d9";

function widthAt(knots, v) {
  for (let j = 1; j < knots.length; j++) {
    if (v <= knots[j][0]) {
      const a = knots[j - 1], b = knots[j];
      const t = (v - a[0]) / (b[0] - a[0]);
      return a[1] + (b[1] - a[1]) * t;
    }
  }
  return 0;
}

// slightly heavier text rendering
function heavy(sel, color, w) {
  return sel.attr("stroke", color).attr("stroke-width", w).attr("paint-order", "stroke");
}

function styleAxis(sel, fs, color) {
  sel.select(".domain").remove();
  sel.selectAll(".tick line").attr("stroke", "#333").attr("stroke-width", 0.9);
  const t = sel.selectAll(".tick text").attr("fill", color || "#4d4d4d")
    .attr("font-size", fs).attr("font-family", FONT);
  heavy(t, color || "#4d4d4d", 0.25);
}

function drawStrip(g, left, top, w, h, label, fs) {
  g.append("rect").attr("x", left).attr("y", top).attr("width", w).attr("height", h)
    .attr("fill", STRIP_FILL).attr("stroke", BORDER).attr("stroke-width", 1);
  const t = g.append("text").attr("x", left + w / 2).attr("y", top + h / 2 + fs * 0.36)
    .attr("text-anchor", "middle").attr("font-family", FONT).attr("font-size", fs)
    .attr("fill", "#111").text(label);
  heavy(t, "#111", 0.45);
}

// ----- Panel A -----
const gA = svg.append("g");
const aColX = [65, 229], aW = 107, aTop = 45, aRowStep = 192, aStripH = 32, aPlotH = 154;
const fmtInt = d3.format("d");

bulkGenes.forEach((gene, i) => {
  const col = i % 2, row = Math.floor(i / 2);
  const left = aColX[col];
  const stripTop = aTop + row * aRowStep;
  const top = stripTop + aStripH, bottom = top + aPlotH;
  const g = gA.append("g");

  const groups = [bulkWT[i], bulkKO[i]];
  const ext = d3.extent(groups.flat(), k => k[0]);
  const pad = (ext[1] - ext[0]) * 0.05;
  const y = d3.scaleLinear().domain([ext[0] - pad, ext[1] + pad]).range([bottom, top]);
  const x = d3.scalePoint().domain(conditions).range([left, left + aW]).padding(0.6);
  const hw = x.step() * 0.5;

  g.append("rect").attr("x", left).attr("y", top).attr("width", aW).attr("height", aPlotH).attr("fill", "#fff");

  groups.forEach((knots, j) => {
    const cx = x(conditions[j]);
    const area = d3.area().curve(d3.curveMonotoneY)
      .y(k => y(k[0])).x0(k => cx - k[1] * hw).x1(k => cx + k[1] * hw);
    g.append("path").attr("d", area(knots.slice().reverse()))
      .attr("fill", conditionColors[j]).attr("stroke", "#3a3a3a").attr("stroke-width", 0.6);
    const m = bulkMedians[i][j];
    const mw = widthAt(knots, m) * hw;
    g.append("line").attr("x1", cx - mw).attr("x2", cx + mw).attr("y1", y(m)).attr("y2", y(m))
      .attr("stroke", "#333").attr("stroke-width", 0.7);
  });

  // significance stars
  const sfs = 28;
  const st = g.append("text").attr("x", x(conditions[bulkStarGroup[i]]) + 1).attr("y", y(bulkStarAt[i]) + sfs * 0.57)
    .attr("text-anchor", "middle").attr("font-family", FONT).attr("font-size", sfs)
    .attr("letter-spacing", 2).attr("fill", "#000").text(bulkStars[i]);
  heavy(st, "#000", 0.6);

  g.append("rect").attr("x", left).attr("y", top).attr("width", aW).attr("height", aPlotH)
    .attr("fill", "none").attr("stroke", BORDER).attr("stroke-width", 1);
  drawStrip(g, left, stripTop, aW, aStripH, gene, 20.5);

  g.append("g").attr("transform", `translate(${left},0)`)
    .call(d3.axisLeft(y).tickValues(bulkTicks[i])
      .tickFormat(v => Number.isInteger(v) ? fmtInt(v) : "").tickSize(4).tickPadding(3))
    .call(s => styleAxis(s, 15));

  if (row === 5) {
    g.append("g").attr("transform", `translate(0,${bottom})`)
      .call(d3.axisBottom(x).tickSize(3).tickPadding(0))
      .call(s => {
        styleAxis(s, 15, "#000");
        s.selectAll(".tick text").attr("font-weight", "bold").attr("stroke-width", 0);
      });
  }
});

// ----- Panel B -----
const gB = svg.append("g");
const bColX = [421, 632, 863, 1074], bW = 182, bTop = 45, bRowStep = 384, bStripH = 27, bPlotH = 335;

scGenes.forEach((gene, i) => {
  const col = i % 4, row = Math.floor(i / 4);
  const left = bColX[col];
  const stripTop = bTop + row * bRowStep;
  const top = stripTop + bStripH, bottom = top + bPlotH;
  const g = gB.append("g");
  const vs = scViolins[i];

  const ext = d3.extent(vs.flatMap(v => v[1].map(k => k[0])));
  const pad = (ext[1] - ext[0]) * 0.05;
  const x = d3.scaleLinear().domain([ext[0] - pad, ext[1] + pad]).range([left, left + bW]);
  const y = d3.scalePoint().domain(clusters).range([top, bottom]).padding(0.6);
  const hh = y.step() * 0.45;

  g.append("rect").attr("x", left).attr("y", top).attr("width", bW).attr("height", bPlotH).attr("fill", "#fff");

  vs.forEach((v, j) => {
    const cy = y(clusters[j]);
    const knots = v[1];
    const area = d3.area().curve(d3.curveMonotoneX)
      .x(k => x(k[0])).y0(k => cy - k[1] * hh).y1(k => cy + k[1] * hh);
    g.append("path").attr("d", area(knots))
      .attr("fill", clusterColors[j]).attr("stroke", "#2a2a2a").attr("stroke-width", 0.65);
    const m = v[0];
    const mh = widthAt(knots, m) * hh;
    g.append("line").attr("x1", x(m)).attr("x2", x(m)).attr("y1", cy - mh).attr("y2", cy + mh)
      .attr("stroke", "#222").attr("stroke-width", 0.8);
  });

  g.append("rect").attr("x", left).attr("y", top).attr("width", bW).attr("height", bPlotH)
    .attr("fill", "none").attr("stroke", BORDER).attr("stroke-width", 1);
  drawStrip(g, left, stripTop, bW, bStripH, gene, 20.5);

  g.append("g").attr("transform", `translate(${left},0)`)
    .call(d3.axisLeft(y).tickSize(4).tickPadding(3))
    .call(s => styleAxis(s, 13));

  g.append("g").attr("transform", `translate(0,${bottom})`)
    .call(d3.axisBottom(x).tickValues(scTickValues[i])
      .tickFormat((d, k) => scTickLabels[i][k]).tickSize(4).tickPadding(3))
    .call(s => styleAxis(s, 13.5));
});

// ----- titles and labels -----
function label(txt, x, y, fs, opts = {}) {
  const t = svg.append("text").attr("x", x).attr("y", y).attr("font-family", FONT)
    .attr("font-size", fs).attr("fill", "#000").attr("text-anchor", opts.anchor || "middle")
    .attr("font-weight", opts.weight || "normal").text(txt);
  if (opts.rotate) t.attr("transform", `rotate(-90,${x},${y})`);
  if (!opts.weight) heavy(t, "#000", 0.45);
  return t;
}
label("A", 11, 34, 29, { anchor: "start", weight: "bold" });
label("B", 371, 34, 29, { anchor: "start", weight: "bold" });
label("Bulk RNA-seq", 200, 30, 22);
label("Single-Cell RNA-seq", 832, 30, 22);
label("Log2 Expression", 28, 625, 22, { rotate: true });
label("Cluster", 391, 624, 22, { rotate: true });
label("Experimental Condition", 201, 1229, 21.5);
label("Log2 Expression", 831, 1228, 22);
</script>
</body>
</html>
